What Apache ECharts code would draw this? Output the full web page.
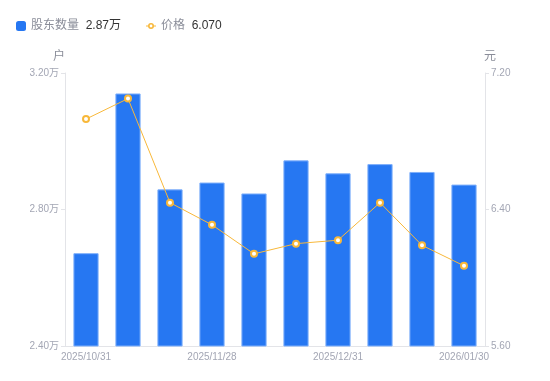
<!DOCTYPE html>
<html><head><meta charset="utf-8">
<script src="https://cdn.jsdelivr.net/npm/echarts@6/dist/echarts.min.js"></script>
<style>html,body{margin:0;padding:0;background:#fff}#c{width:550px;height:381px}</style>
</head><body><div id="c"></div>
<script>
const categories = ['2025/10/31','2025/11/10','2025/11/20','2025/11/28','2025/12/10','2025/12/19','2025/12/31','2026/01/09','2026/01/20','2026/01/30'];
const holders = [26720, 31400, 28590, 28790, 28470, 29440, 29060, 29330, 29100, 28730];
const prices = [6.93, 7.05, 6.44, 6.31, 6.14, 6.20, 6.22, 6.44, 6.19, 6.07];
const holderTicks = {min: 24000, max: 32000, interval: 4000};
const priceTicks = {min: 5.6, max: 7.2, interval: 0.8};
const legendValues = {'股东数量': '2.87万', '价格': '6.070'};

const chart = echarts.init(document.getElementById('c'), null, {renderer: 'canvas'});
const axisLabelColor = '#a3a6b4';
const lineIcon = 'path://M0,4.6L2.2,4.6L2.2,5.4L0,5.4Z M7.8,4.6L10,4.6L10,5.4L7.8,5.4Z M5,2A3,3 0 1,1 5,8A3,3 0 1,1 5,2Z M5,3.6A1.4,1.4 0 1,0 5,6.4A1.4,1.4 0 1,0 5,3.6Z';
chart.setOption({
  animation: false,
  textStyle: {fontFamily: '"Liberation Sans", "Noto Sans CJK SC", sans-serif'},
  legend: {
    left: 11, top: 15, itemWidth: 10, itemHeight: 10, itemGap: 25,
    formatter: n => '{n|' + n + '}  {v|' + legendValues[n] + '}',
    textStyle: {rich: {n: {color: '#8a8d99', fontSize: 12}, v: {color: '#333', fontSize: 12}}},
    data: [{name: '股东数量', icon: 'roundRect', itemStyle: {borderWidth: 0}}, {name: '价格', icon: lineIcon}]
  },
  grid: {left: 65, right: 65, top: 73, bottom: 35},
  xAxis: {
    type: 'category', data: categories,
    axisLine: {lineStyle: {color: '#e3e4e8'}},
    axisTick: {show: false},
    axisLabel: {color: axisLabelColor, fontSize: 10, interval: 2, margin: 6}
  },
  yAxis: [{
    type: 'value', name: '户', nameGap: 10,
    nameTextStyle: {color: '#8a8d99', fontSize: 12, padding: [0, 12, 0, 0]},
    min: holderTicks.min, max: holderTicks.max, interval: holderTicks.interval,
    axisLine: {show: true, lineStyle: {color: '#e3e4e8'}},
    axisTick: {show: true, length: 4, lineStyle: {color: '#e3e4e8'}},
    splitLine: {show: false},
    axisLabel: {color: axisLabelColor, fontSize: 10, margin: 6, formatter: v => (v / 10000).toFixed(2) + '万'}
  }, {
    type: 'value', name: '元', nameGap: 10,
    nameTextStyle: {color: '#8a8d99', fontSize: 12, padding: [0, 0, 0, 10]},
    min: priceTicks.min, max: priceTicks.max, interval: priceTicks.interval,
    axisLine: {show: true, lineStyle: {color: '#e3e4e8'}},
    axisTick: {show: true, length: 4, lineStyle: {color: '#e3e4e8'}},
    splitLine: {show: false},
    axisLabel: {color: axisLabelColor, fontSize: 10, margin: 6, formatter: v => v.toFixed(2)}
  }],
  series: [{
    name: '股东数量', type: 'bar', data: holders, barWidth: '60%',
    itemStyle: {color: '#2677f2', borderColor: '#7fb0fb', borderWidth: 1}
  }, {
    name: '价格', type: 'line', yAxisIndex: 1, data: prices,
    symbol: 'emptyCircle', symbolSize: 6,
    lineStyle: {color: '#f8b83a', width: 1},
    itemStyle: {color: '#f8b83a', borderWidth: 2}
  }]
});
</script></body></html>
